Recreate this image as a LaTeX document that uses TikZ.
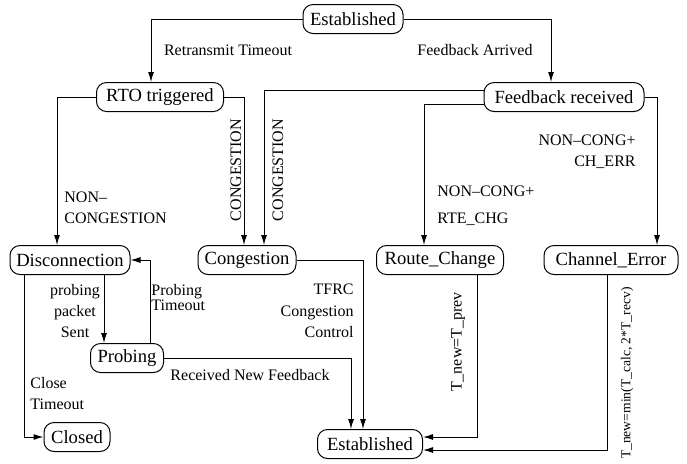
\documentclass[tikz,border=0pt]{standalone}
\usepackage{fontspec}
\setmainfont{Liberation Serif}
\usetikzlibrary{positioning,calc,arrows.meta}

\begin{document}
\begin{tikzpicture}[x=0.5pt,y=-0.5pt]
\tikzset{
	s/.style={draw=black, rounded corners=5pt, line width=0.5pt,
		minimum height=14.5pt, inner sep=0pt, font=\fontsize{9.3}{11}\selectfont},
	a/.style={draw=black, line width=0.5pt, -{Latex[length=5pt,width=3pt]}},
	w/.style={font=\fontsize{8}{10.7}\selectfont, inner sep=0pt}
}
\useasboundingbox (0,0) rectangle (687,463);

% states
\node[s, minimum width=50pt] (estT) at (353,19) {Established};
\node[s, minimum width=63.5pt] (rto) at (160,97) {RTO triggered};
\node[s, minimum width=80pt] (fbr) at (564,97) {Feedback received};
\node[s, minimum width=60pt] (disc) at (70,260) {Disconnection};
\node[s, minimum width=49pt] (cong) at (247,260) {Congestion};
\node[s, minimum width=63.5pt] (route) at (440,260) {Route\_Change};
\node[s, minimum width=67pt] (chan) at (611,260) {Channel\_Error};
\node[s, minimum width=36.5pt] (prob) at (127,358) {Probing};
\node[s, minimum width=33pt] (closed) at (77,437) {Closed};
\node[s, minimum width=52.5pt] (estB) at (370,444) {Established};

% transitions
\draw[a] (estT.west) -| ([xshift=-4.5pt]rto.north);
\draw[a] (estT.east) -| ([xshift=-6.5pt]fbr.north);
\draw[a] (rto.west) -| ([xshift=-6.5pt]disc.north);
\draw[a] (rto.east) -| ([xshift=-1.5pt]cong.north);
\draw[a] ([yshift=3.5pt]fbr.west) -| ([xshift=8.5pt]cong.north);
\draw[a] ([yshift=-3.5pt]fbr.west) -| ([xshift=-8pt]route.north);
\draw[a] (fbr.east) -| ([xshift=23pt]chan.north);
\draw[a] ([xshift=-23pt]disc.south) |- (closed.west);
\draw[a] ([xshift=17pt]disc.south) -- ([xshift=17pt]disc.south |- prob.north);
\draw[a] ([xshift=11.5pt]prob.north) |- (disc.east);
\draw[a] (prob.east) -| ([xshift=-9.5pt]estB.north);
\draw[a] (cong.east) -| ([xshift=-3.5pt]estB.north);
\draw[a] ([xshift=18.5pt]route.south) |- ([yshift=3.5pt]estB.east);
\draw[a] ([xshift=-2pt]chan.south) |- ([yshift=-3pt]estB.east);

% labels
\node[w] (lRto) at (228,50) {Retransmit Timeout};
\node[w] (lFb) at (475,50) {Feedback Arrived};
\node[w, anchor=west, align=left] (lNon) at (64,208) {NON--\\CONGESTION};
\node[w, rotate=90] (lCg1) at (236,170) {CONGESTION};
\node[w, rotate=90] (lCg2) at (278,170) {CONGESTION};
\node[w, anchor=east, align=right] (lCh) at (636,152) {NON--CONG+\\CH\_ERR};
\node[w, anchor=west, align=left] (lRt) at (437,205.5) {NON--CONG+\\[3pt]RTE\_CHG};
\node[w, align=center] (lPps) at (75,311) {probing\\packet\\Sent};
\node[w, anchor=west, align=left, font=\fontsize{8}{7.5}\selectfont] (lPt) at (151,297.5) {Probing\\Timeout};
\node[w, anchor=east, align=right] (lTf) at (354,311) {TFRC\\Congestion\\Control};
\node[w, anchor=west, align=left] (lCl) at (30,393.5) {Close\\Timeout};
\node[w] (lRnf) at (250,375) {Received New Feedback};
\node[w, rotate=90] (lTp) at (458,342) {T\_new=T\_prev};
\node[w, rotate=90, anchor=east, font=\fontsize{6.8}{8}\selectfont] (lTm) at (627,287) {T\_new=min(T\_calc, 2*T\_recv)};
\end{tikzpicture}
\end{document}
